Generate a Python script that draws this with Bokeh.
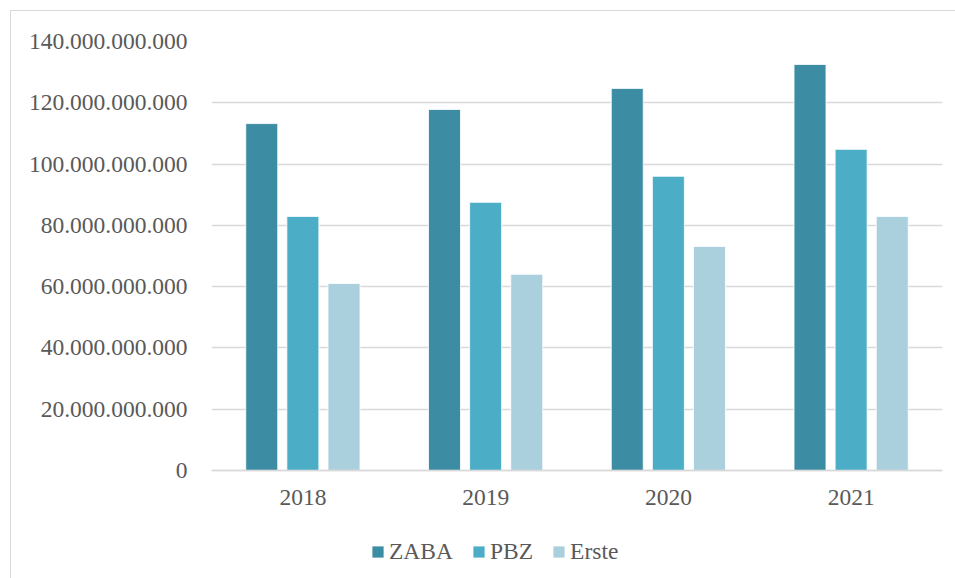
from bokeh.plotting import figure
from bokeh.models import ColumnDataSource, FactorRange, FixedTicker, Legend, LegendItem, Range1d
from bokeh.transform import dodge
from bokeh.embed import file_html
from bokeh.resources import INLINE

years = ["2018", "2019", "2020", "2021"]
zaba = [113.2e9, 117.8e9, 124.7e9, 132.5e9]
pbz = [82.9e9, 87.5e9, 96.0e9, 104.8e9]
erste = [61.0e9, 64.0e9, 73.1e9, 82.9e9]
series_names = ["ZABA", "PBZ", "Erste"]
colors = ["#3C8CA3", "#4BADC6", "#AACFDD"]
y_ticks = [0, 20e9, 40e9, 60e9, 80e9, 100e9, 120e9, 140e9]
y_tick_labels = ["0", "20.000.000.000", "40.000.000.000", "60.000.000.000",
                 "80.000.000.000", "100.000.000.000", "120.000.000.000", "140.000.000.000"]

src = ColumnDataSource(dict(years=years, ZABA=zaba, PBZ=pbz, Erste=erste))

FONT = "Liberation Serif"
TXT = "#595959"
FS = "23.5px"

# frame spans from the chart top to the bottom edge; the space under 0 holds
# the category labels and the legend
y_end = 140e9
y_start = -35.6e9

p = figure(x_range=FactorRange(*years, range_padding=0), y_range=Range1d(y_start, y_end),
           width=945, height=568, margin=(10, 0, 0, 10),
           output_backend="svg", toolbar_location=None,
           min_border_left=200, min_border_right=14, min_border_top=30, min_border_bottom=0)
p.styles = {"border-top": "1px solid #d9d9d9", "border-left": "1px solid #d9d9d9",
            "box-sizing": "border-box"}
p.outline_line_color = None
p.xgrid.grid_line_color = None
p.ygrid.grid_line_color = "#d9d9d9"
p.ygrid.grid_line_width = 1.3

offsets = [-0.225, 0.0, 0.225]
items = []
for name, col, off in zip(series_names, colors, offsets):
    r = p.vbar(x=dodge("years", off, range=p.x_range), top=name, width=0.175, source=src,
               fill_color=col, line_color="white", line_width=0.8)
    items.append(LegendItem(label=name, renderers=[r]))

p.yaxis.ticker = FixedTicker(ticks=y_ticks)
p.yaxis.major_label_overrides = {t: l for t, l in zip(y_ticks, y_tick_labels)}
for ax in (p.xaxis, p.yaxis):
    ax.axis_line_color = None
    ax.major_tick_line_color = None
    ax.minor_tick_line_color = None
    ax.major_label_text_font = FONT
    ax.major_label_text_font_size = FS
    ax.major_label_text_color = TXT
p.xaxis.fixed_location = 0
p.xaxis.axis_line_color = "#d9d9d9"
p.xaxis.axis_line_width = 1.3
p.yaxis.major_label_standoff = 18
p.xaxis.major_label_standoff = 14

legend = Legend(items=items, orientation="horizontal", location=(159, 14),
                glyph_width=15, glyph_height=15, label_standoff=4, spacing=18,
                padding=0, margin=0, border_line_color=None, background_fill_alpha=0,
                label_text_font=FONT, label_text_font_size=FS, label_text_color=TXT)
p.add_layout(legend, "center")

open("out.html", "w").write(file_html(p, INLINE))
